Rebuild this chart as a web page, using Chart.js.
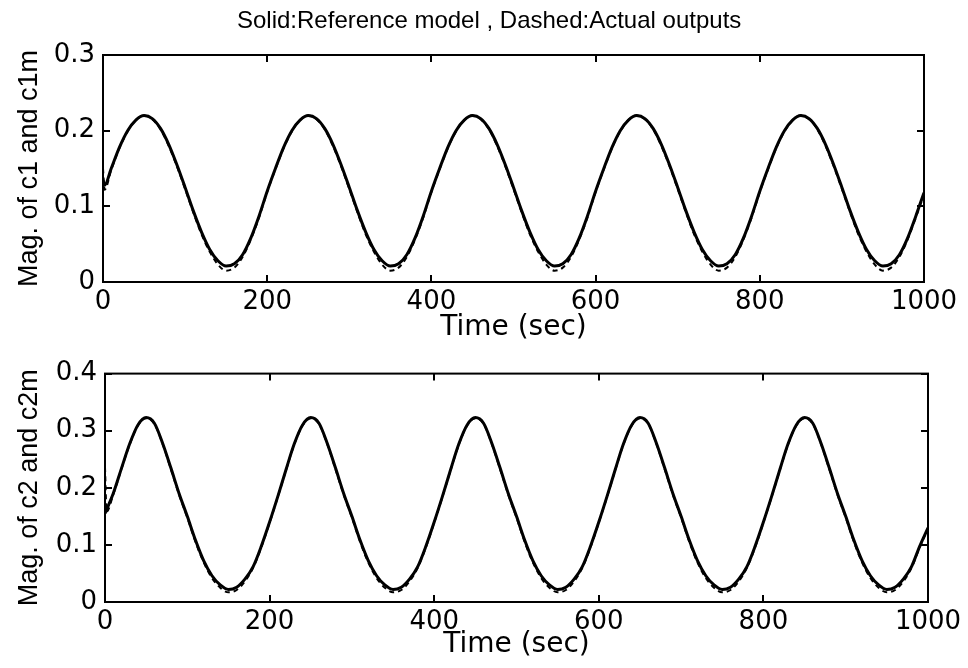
<!DOCTYPE html>
<html>
<head>
<meta charset="utf-8">
<script src="https://cdn.jsdelivr.net/npm/chart.js@4/dist/chart.umd.min.js"></script>
<style>
  html, body { margin: 0; padding: 0; background: #fff; }
  #wrap { position: relative; width: 968px; height: 668px; }
  #top-chart { position: absolute; left: 0; top: 0; }
  #bottom-chart { position: absolute; left: 0; top: 350px; }
  #fig-title {
    position: absolute; left: 237px; top: 8px;
    font-family: 'Liberation Sans', Arial, sans-serif; font-size: 24px; line-height: 24px;
    color: #000; white-space: nowrap;
  }
</style>
</head>
<body>
<div id="wrap">
  <canvas id="top-chart" width="968" height="350"></canvas>
  <canvas id="bottom-chart" width="968" height="318"></canvas>
  <div id="fig-title">Solid:Reference model , Dashed:Actual outputs</div>
</div>
<script>
// time axis samples (sec)
const timeSec = [0, 2, 10, 20, 30, 40, 50, 60, 70, 80, 90,
  100, 110, 120, 130, 140, 150, 160, 170, 180, 190,
  200, 210, 220, 230, 240, 250, 260, 270, 280, 290,
  300, 310, 320, 330, 340, 350, 360, 370, 380, 390,
  400, 410, 420, 430, 440, 450, 460, 470, 480, 490,
  500, 510, 520, 530, 540, 550, 560, 570, 580, 590,
  600, 610, 620, 630, 640, 650, 660, 670, 680, 690,
  700, 710, 720, 730, 740, 750, 760, 770, 780, 790,
  800, 810, 820, 830, 840, 850, 860, 870, 880, 890,
  900, 910, 920, 930, 940, 950, 960, 970, 980, 990, 1000];

// top: c1m (reference model, solid) and c1 (actual, dashed)
const c1mRef = [0.135, 0.128, 0.150, 0.178, 0.200, 0.214, 0.220, 0.216, 0.203, 0.182, 0.155,
  0.125, 0.094, 0.066, 0.043, 0.028, 0.021, 0.024, 0.036, 0.058, 0.087,
  0.120, 0.150, 0.178, 0.200, 0.214, 0.220, 0.216, 0.203, 0.182, 0.155,
  0.125, 0.094, 0.066, 0.043, 0.028, 0.021, 0.024, 0.036, 0.058, 0.087,
  0.120, 0.150, 0.178, 0.200, 0.214, 0.220, 0.216, 0.203, 0.182, 0.155,
  0.125, 0.094, 0.066, 0.043, 0.028, 0.021, 0.024, 0.036, 0.058, 0.087,
  0.120, 0.150, 0.178, 0.200, 0.214, 0.220, 0.216, 0.203, 0.182, 0.155,
  0.125, 0.094, 0.066, 0.043, 0.028, 0.021, 0.024, 0.036, 0.058, 0.087,
  0.120, 0.150, 0.178, 0.200, 0.214, 0.220, 0.216, 0.203, 0.182, 0.155,
  0.125, 0.094, 0.066, 0.043, 0.028, 0.021, 0.024, 0.036, 0.058, 0.087, 0.118];
const c1Act = [0.150, 0.122, 0.148, 0.177, 0.199, 0.214, 0.220, 0.215, 0.202, 0.180, 0.153,
  0.123, 0.092, 0.063, 0.040, 0.023, 0.015, 0.019, 0.033, 0.056, 0.085,
  0.119, 0.149, 0.177, 0.199, 0.214, 0.220, 0.215, 0.202, 0.180, 0.153,
  0.123, 0.092, 0.063, 0.040, 0.023, 0.015, 0.019, 0.033, 0.056, 0.085,
  0.119, 0.149, 0.177, 0.199, 0.214, 0.220, 0.215, 0.202, 0.180, 0.153,
  0.123, 0.092, 0.063, 0.040, 0.023, 0.015, 0.019, 0.033, 0.056, 0.085,
  0.119, 0.149, 0.177, 0.199, 0.214, 0.220, 0.215, 0.202, 0.180, 0.153,
  0.123, 0.092, 0.063, 0.040, 0.023, 0.015, 0.019, 0.033, 0.056, 0.085,
  0.119, 0.149, 0.177, 0.199, 0.214, 0.220, 0.215, 0.202, 0.180, 0.153,
  0.123, 0.092, 0.063, 0.040, 0.023, 0.015, 0.019, 0.033, 0.056, 0.085, 0.116];

// bottom: c2m (reference model, solid) and c2 (actual, dashed)
const c2mRef = [0.155, 0.162, 0.190, 0.234, 0.277, 0.310, 0.323, 0.313, 0.278, 0.235, 0.190,
  0.150, 0.108, 0.072, 0.046, 0.030, 0.022, 0.026, 0.040, 0.062, 0.098,
  0.140, 0.185, 0.232, 0.277, 0.310, 0.323, 0.313, 0.278, 0.235, 0.190,
  0.150, 0.108, 0.072, 0.046, 0.030, 0.022, 0.026, 0.040, 0.062, 0.098,
  0.140, 0.185, 0.232, 0.277, 0.310, 0.323, 0.313, 0.278, 0.235, 0.190,
  0.150, 0.108, 0.072, 0.046, 0.030, 0.022, 0.026, 0.040, 0.062, 0.098,
  0.140, 0.185, 0.232, 0.277, 0.310, 0.323, 0.313, 0.278, 0.235, 0.190,
  0.150, 0.108, 0.072, 0.046, 0.030, 0.022, 0.026, 0.040, 0.062, 0.098,
  0.140, 0.185, 0.232, 0.277, 0.310, 0.323, 0.313, 0.278, 0.235, 0.190,
  0.150, 0.108, 0.072, 0.046, 0.030, 0.022, 0.026, 0.040, 0.062, 0.098, 0.130];
const c2Act = [0.236, 0.158, 0.188, 0.233, 0.276, 0.309, 0.322, 0.312, 0.277, 0.233, 0.188,
  0.148, 0.105, 0.069, 0.042, 0.025, 0.017, 0.021, 0.036, 0.060, 0.096,
  0.139, 0.184, 0.231, 0.276, 0.309, 0.322, 0.312, 0.277, 0.233, 0.188,
  0.148, 0.105, 0.069, 0.042, 0.025, 0.017, 0.021, 0.036, 0.060, 0.096,
  0.139, 0.184, 0.231, 0.276, 0.309, 0.322, 0.312, 0.277, 0.233, 0.188,
  0.148, 0.105, 0.069, 0.042, 0.025, 0.017, 0.021, 0.036, 0.060, 0.096,
  0.139, 0.184, 0.231, 0.276, 0.309, 0.322, 0.312, 0.277, 0.233, 0.188,
  0.148, 0.105, 0.069, 0.042, 0.025, 0.017, 0.021, 0.036, 0.060, 0.096,
  0.139, 0.184, 0.231, 0.276, 0.309, 0.322, 0.312, 0.277, 0.233, 0.188,
  0.148, 0.105, 0.069, 0.042, 0.025, 0.017, 0.021, 0.036, 0.060, 0.096, 0.128];

// tick labels
const xTicks = [0, 200, 400, 600, 800, 1000];
const topYTicks = [0, 0.1, 0.2, 0.3];
const bottomYTicks = [0, 0.1, 0.2, 0.3, 0.4];

const xLabel = 'Time (sec)';
const topYLabel = 'Mag. of c1 and c1m';
const bottomYLabel = 'Mag. of c2 and c2m';

const TICK_FONT = { family: 'DejaVu Sans', size: 26 };
const XLABEL_FONT = { family: 'DejaVu Sans', size: 28 };
const LABEL_FONT = { family: 'Liberation Sans', size: 27 };

// matlab style box with inward ticks
const boxPlugin = {
    id: 'boxPlugin',
    afterDatasetsDraw(chart) {
        const { ctx, chartArea: a, scales } = chart;
        const len = 7;
        ctx.save();
        ctx.strokeStyle = '#000';
        ctx.lineWidth = 2;
        ctx.strokeRect(a.left, a.top, a.right - a.left, a.bottom - a.top);
        ctx.beginPath();
        scales.x.ticks.forEach(t => {
            const px = Math.round(scales.x.getPixelForValue(t.value));
            ctx.moveTo(px, a.bottom); ctx.lineTo(px, a.bottom - len);
            ctx.moveTo(px, a.top); ctx.lineTo(px, a.top + len);
        });
        scales.y.ticks.forEach(t => {
            const py = Math.round(scales.y.getPixelForValue(t.value));
            ctx.moveTo(a.left, py); ctx.lineTo(a.left + len, py);
            ctx.moveTo(a.right, py); ctx.lineTo(a.right - len, py);
        });
        ctx.stroke();
        ctx.restore();
    }
};

function toPoints(values) {
    return values.map((v, i) => ({ x: timeSec[i], y: v }));
}

function makeChart(canvasId, cfg) {
    const ctx = document.getElementById(canvasId).getContext('2d');
    return new Chart(ctx, {
        type: 'line',
        data: {
            datasets: [{
                label: 'Reference model',
                data: toPoints(cfg.solid),
                borderColor: '#000',
                borderWidth: 3,
                pointRadius: 0,
                cubicInterpolationMode: 'monotone'
            }, {
                label: 'Actual outputs',
                data: toPoints(cfg.dashed),
                borderColor: '#000',
                borderWidth: 2,
                borderDash: [5, 4],
                pointRadius: 0,
                cubicInterpolationMode: 'monotone'
            }]
        },
        options: {
            responsive: false,
            animation: false,
            devicePixelRatio: 1,
            layout: { padding: cfg.padding },
            plugins: {
                legend: { display: false },
                tooltip: { enabled: false },
                title: { display: false }
            },
            scales: {
                x: {
                    type: 'linear',
                    min: 0,
                    max: 1000,
                    afterBuildTicks: s => { s.ticks = xTicks.map(v => ({ value: v })); },
                    afterFit: s => { s.height = cfg.xHeight; },
                    grid: { display: false, drawTicks: false },
                    border: { display: false },
                    ticks: {
                        color: '#000',
                        font: TICK_FONT,
                        padding: 5,
                        maxRotation: 0,
                        callback: v => String(v)
                    },
                    title: {
                        display: true,
                        text: xLabel,
                        color: '#000',
                        font: XLABEL_FONT,
                        padding: { top: 0, bottom: cfg.xTitlePad }
                    }
                },
                y: {
                    min: 0,
                    max: cfg.yTicks[cfg.yTicks.length - 1],
                    afterBuildTicks: s => { s.ticks = cfg.yTicks.map(v => ({ value: v })); },
                    afterFit: s => { s.width = cfg.yWidth; },
                    grid: { display: false, drawTicks: false },
                    border: { display: false },
                    ticks: {
                        color: '#000',
                        font: TICK_FONT,
                        padding: 8,
                        callback: v => v === 0 ? '0' : v.toFixed(1)
                    },
                    title: {
                        display: true,
                        text: cfg.yLabel,
                        color: '#000',
                        font: LABEL_FONT,
                        padding: { top: 13, bottom: 0 }
                    }
                }
            }
        },
        plugins: [boxPlugin]
    });
}

makeChart('top-chart', {
    solid: c1mRef,
    dashed: c1Act,
    yTicks: topYTicks,
    yLabel: topYLabel,
    padding: { top: 55, right: 44, bottom: 0, left: 0 },
    yWidth: 103,
    xHeight: 68,
    xTitlePad: 5
});

makeChart('bottom-chart', {
    solid: c2mRef,
    dashed: c2Act,
    yTicks: bottomYTicks,
    yLabel: bottomYLabel,
    padding: { top: 23, right: 40, bottom: 0, left: 0 },
    yWidth: 105,
    xHeight: 66,
    xTitlePad: 6
});
</script>
</body>
</html>
